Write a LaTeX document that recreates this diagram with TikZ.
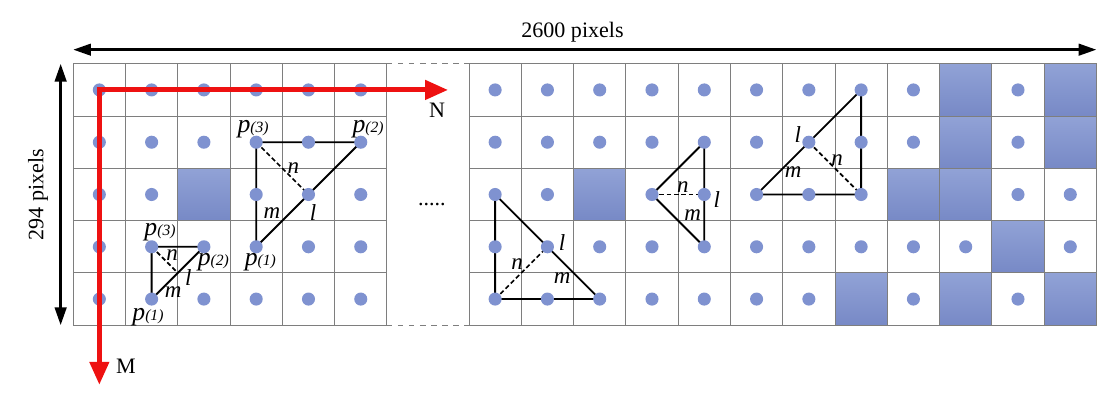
\documentclass[tikz,border=0pt]{standalone}
\usepackage{fontspec}
\setmainfont{Liberation Serif}
\usetikzlibrary{arrows.meta, positioning, calc, backgrounds}
\definecolor{cdot}{HTML}{7F92D0}
\definecolor{ccellhi}{HTML}{91A2D6}
\definecolor{ccelllo}{HTML}{7789C6}
\definecolor{cgridline}{HTML}{7E7E7E}
\definecolor{cred}{HTML}{EE1111}
\tikzset{
  every picture/.style={font=\fontsize{12}{14}\selectfont},
  dot/.style={circle, fill=cdot, minimum size=0.25cm, inner sep=0pt},
  cell/.style={draw=cgridline, line width=0.5pt, top color=ccellhi, bottom color=ccelllo},
  gridline/.style={draw=cgridline, line width=0.5pt},
  edge/.style={line width=1pt},
  half/.style={line width=0.9pt, dash pattern=on 2.5pt off 1.5pt},
  dimarrow/.style={{Triangle[length=3.4mm,width=2.2mm]}-{Triangle[length=3.4mm,width=2.2mm]}, line width=1.5pt},
  axis/.style={{Triangle[length=4.4mm,width=3.6mm]}-{Triangle[length=4.4mm,width=3.6mm]}, draw=cred, line width=2.7pt, line join=miter},
  lab/.style={font=\fontsize{12.5}{14}\selectfont\itshape, inner sep=0pt},
}
\newcommand{\pidx}[1]{{\fontsize{14}{14}\selectfont\textit{p}}{\fontsize{8.5}{9}\selectfont\textit{(#1)}}}

\begin{document}
\begin{tikzpicture}
  \useasboundingbox (-1.40,1.22) rectangle (19.83,-6.31);
  % ---------- left block: 6 x 5 cells ----------
  \foreach \r in {0,...,4} \foreach \c in {0,...,5}
    \node[dot] (a-\r-\c) at (\c+0.5, -\r-0.5) {};
  \draw[cell] (2,-2) rectangle ++(1,-1);
  \begin{scope}[on background layer]
    \draw[gridline] (0,0) grid (6,-5);
    \draw[gridline, dashed] (6,0) -- (7.57,0);
    \draw[gridline, dashed] (6,-5) -- (7.57,-5);
    \draw[edge] (a-1-3.center) -- (a-1-5.center) -- (a-3-3.center) -- cycle;
    \draw[half] (a-1-3.center) -- (a-2-4.center);
    \coordinate (qa) at ($(a-3-2)!0.5!(a-4-1)$);
    \draw[edge] (a-3-1.center) -- (a-3-2.center) -- (a-4-1.center) -- cycle;
    \draw[half] (a-3-1.center) -- (qa);
  \end{scope}
  \node[lab] (pa3) at (3.44,-1.26) {\pidx{3}};
  \node[lab] (pa2) at (5.64,-1.26) {\pidx{2}};
  \node[lab] (pa1) at (3.58,-3.79) {\pidx{1}};
  \node[lab] (na) at (4.21,-1.99) {n};
  \node[lab] (ma) at (3.80,-2.85) {m};
  \node[lab] (la) at (4.59,-2.85) {l};
  \node[lab] (pb3) at (1.66,-3.23) {\pidx{3}};
  \node[lab] (pb2) at (2.68,-3.79) {\pidx{2}};
  \node[lab] (pb1) at (1.43,-4.84) {\pidx{1}};
  \node[lab] (nb) at (1.89,-3.65) {n};
  \node[lab] (lb) at (2.20,-4.09) {l};
  \node[lab] (mb) at (1.91,-4.36) {m};
  \node (gap) at (6.86,-2.70) {.....};
  % ---------- right block: 12 x 5 cells ----------
  \begin{scope}[xshift=7.57cm]
    \foreach \r in {0,...,4} \foreach \c in {0,...,11}
      \node[dot] (b-\r-\c) at (\c+0.5, -\r-0.5) {};
    \foreach \c/\r in {2/2, 9/0, 11/0, 9/1, 11/1, 8/2, 9/2, 10/3, 7/4, 9/4, 11/4}
      \draw[cell] (\c,-\r) rectangle ++(1,-1);
    \begin{scope}[on background layer]
      \draw[gridline] (0,0) grid (12,-5);
      \draw[edge] (b-2-0.center) -- (b-4-0.center) -- (b-4-2.center) -- cycle;
      \draw[half] (b-4-0.center) -- (b-3-1.center);
      \draw[edge] (b-1-4.center) -- (b-2-3.center) -- (b-3-4.center) -- cycle;
      \draw[half] (b-2-3.center) -- (b-2-4.center);
      \draw[edge] (b-0-7.center) -- (b-2-5.center) -- (b-2-7.center) -- cycle;
      \draw[half] (b-1-6.center) -- (b-2-7.center);
    \end{scope}
    \node[lab] (lc) at (1.78,-3.42) {l};
    \node[lab] (nc) at (0.92,-3.84) {n};
    \node[lab] (mc) at (1.78,-4.09) {m};
    \node[lab] (nd) at (4.09,-2.35) {n};
    \node[lab] (ld) at (4.74,-2.60) {l};
    \node[lab] (md) at (4.28,-2.89) {m};
    \node[lab] (le) at (6.29,-1.36) {l};
    \node[lab] (ne) at (7.04,-1.84) {n};
    \node[lab] (me) at (6.20,-2.08) {m};
  \end{scope}
  % ---------- axes and sizes ----------
  \coordinate (nEnd) at (7.17,-0.5);
  \coordinate (mEnd) at (0.5,-6.14);
  \draw[axis] (nEnd) -- (a-0-0.center) -- (mEnd);
  \node (nlab) at (6.96,-0.88) {N};
  \node (mlab) at (1.01,-5.79) {M};
  \coordinate (dimL) at (0,0.27);
  \coordinate (dimR) at (19.57,0.27);
  \coordinate (dimT) at (-0.24,0);
  \coordinate (dimB) at (-0.24,-5);
  \draw[dimarrow] (dimL) -- (dimR);
  \draw[dimarrow] (dimT) -- (dimB);
  \node (wlab) at (9.55,0.61) {2600 pixels};
  \node[rotate=90] (hlab) at (-0.67,-2.5) {294 pixels};
\end{tikzpicture}
\end{document}
